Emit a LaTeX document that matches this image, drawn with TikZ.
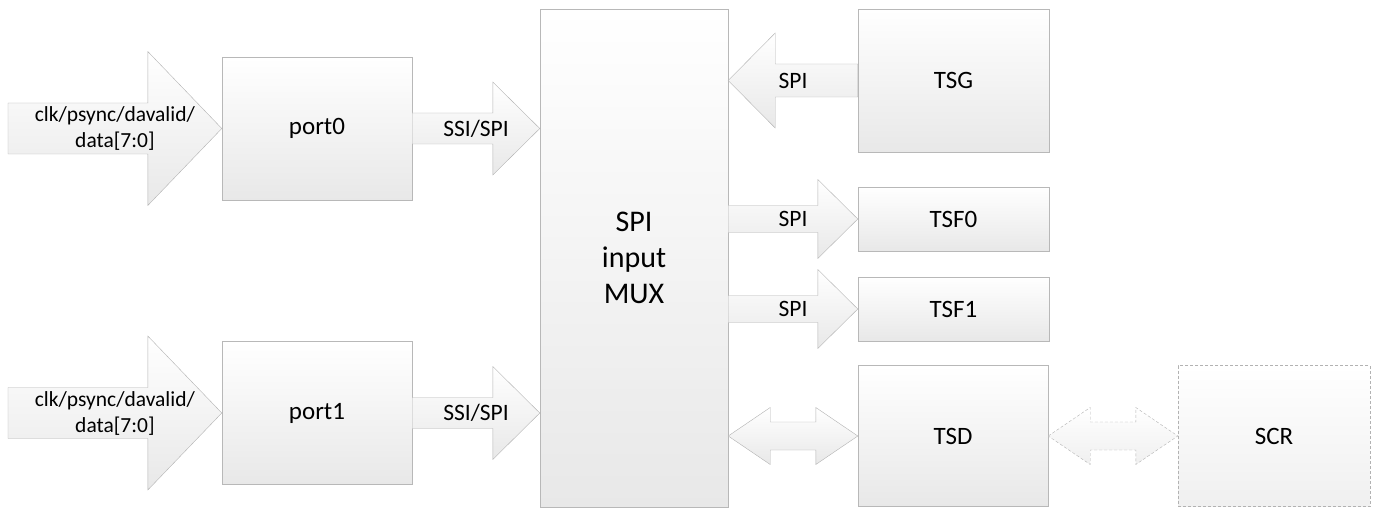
\documentclass[tikz,border=0pt]{standalone}
\usepackage{fontspec}
\setmainfont{Carlito}
\usetikzlibrary{calc}

\begin{document}
\begin{tikzpicture}[x=1pt, y=-1pt,
    blk/.style={draw=black!28, top color=white, bottom color=black!9, inner sep=0pt, align=center, font=\fontsize{25}{30}\selectfont},
    lbl/.style={inner sep=0pt, align=center},
    arr shaft/.store in=\arrshaft, arr head/.store in=\arrhead, arr len/.store in=\arrlen,
    arr text/.store in=\arrtext, arr font/.store in=\arrfont,
    arr text={}, arr font=\fontsize{23.5}{28}\selectfont,
    blkarrow/.style={draw=black!30, top color=white, bottom color=black!9, to path={
        let \p1=(\tikztostart), \p2=(\tikztotarget), \n1={sign(\x2-\x1)} in
        (\x1,\y1+\arrshaft) -- (\x2-\n1*\arrlen,\y1+\arrshaft) -- (\x2-\n1*\arrlen,\y1+\arrhead)
        -- (\x2,\y1) -- (\x2-\n1*\arrlen,\y1-\arrhead) -- (\x2-\n1*\arrlen,\y1-\arrshaft)
        -- (\x1,\y1-\arrshaft) -- cycle
        node[lbl, font=\arrfont] at ({(\x1+\x2)/2},\y1) {\arrtext}}},
    dblarrow/.style={draw=black!30, top color=white, bottom color=black!9, to path={
        let \p1=(\tikztostart), \p2=(\tikztotarget), \n1={sign(\x2-\x1)} in
        (\x1,\y1) -- (\x1+\n1*\arrlen,\y1+\arrhead) -- (\x1+\n1*\arrlen,\y1+\arrshaft)
        -- (\x2-\n1*\arrlen,\y1+\arrshaft) -- (\x2-\n1*\arrlen,\y1+\arrhead) -- (\x2,\y1)
        -- (\x2-\n1*\arrlen,\y1-\arrhead) -- (\x2-\n1*\arrlen,\y1-\arrshaft)
        -- (\x1+\n1*\arrlen,\y1-\arrshaft) -- (\x1+\n1*\arrlen,\y1-\arrhead) -- cycle}},
    faint/.style={dashed, dash pattern=on 3pt off 2pt, draw=black!30, top color=white, bottom color=black!6}]

    \useasboundingbox (0,0) rectangle (1377,508);

    % ports and mux
    \node[blk, minimum width=190, minimum height=143] (port0) at (317,128.5) {port0};
    \node[blk, minimum width=190, minimum height=143] (port1) at (317,413) {port1};
    \node[blk, minimum width=188, minimum height=498, font=\fontsize{30}{36}\selectfont] (mux) at (634,258) {SPI\\input\\MUX};

    % right side blocks
    \node[blk, minimum width=191, minimum height=143] (tsg) at (953.5,80.5) {TSG};
    \node[blk, minimum width=191, minimum height=64] (tsf0) at (953.5,219) {TSF0};
    \node[blk, minimum width=191, minimum height=64] (tsf1) at (953.5,309) {TSF1};
    \node[blk, minimum width=190, minimum height=141] (tsd) at (953,436) {TSD};
    \node[blk, faint, minimum width=192, minimum height=141] (scr) at (1274,436) {SCR};

    % inputs
    \coordinate (in0) at (8,128.5);
    \coordinate (in1) at (8,413);
    \draw[blkarrow, arr shaft=25.5pt, arr head=77pt, arr len=74pt, arr font=\fontsize{21.5}{26}\selectfont,
        arr text={clk/psync/davalid/\\data[7:0]}] (in0) to (port0.west);
    \draw[blkarrow, arr shaft=25.5pt, arr head=77pt, arr len=74pt, arr font=\fontsize{21.5}{26}\selectfont,
        arr text={clk/psync/davalid/\\data[7:0]}] (in1) to (port1.west);

    % ports to mux
    \draw[blkarrow, arr shaft=15.5pt, arr head=46.5pt, arr len=47pt, arr text=SSI/SPI] (port0.east) to (mux.west |- port0.east);
    \draw[blkarrow, arr shaft=15.5pt, arr head=46.5pt, arr len=47pt, arr text=SSI/SPI] (port1.east) to (mux.west |- port1.east);

    % mux to the right side
    \draw[blkarrow, arr shaft=16.5pt, arr head=47.5pt, arr len=47pt, arr text=SPI] (tsg.west) to (mux.east |- tsg.west);
    \draw[blkarrow, arr shaft=13.5pt, arr head=39.5pt, arr len=40pt, arr text=SPI] (mux.east |- tsf0.west) to (tsf0.west);
    \draw[blkarrow, arr shaft=13.5pt, arr head=39.5pt, arr len=40pt, arr text=SPI] (mux.east |- tsf1.west) to (tsf1.west);
    \draw[dblarrow, arr shaft=14pt, arr head=28.5pt, arr len=42pt] (mux.east |- tsd.west) to (tsd.west);
    \draw[dblarrow, faint, arr shaft=14pt, arr head=28.5pt, arr len=42pt] (tsd.east) to (scr.west);
\end{tikzpicture}
\end{document}
